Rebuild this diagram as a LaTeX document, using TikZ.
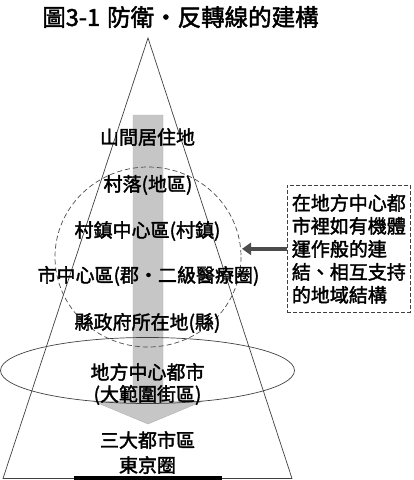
\documentclass[tikz,border=0pt]{standalone}
\usepackage{fontspec}
\newfontfamily\cjk[FakeBold=2]{Noto Sans CJK TC}
\usetikzlibrary{arrows.meta}
\begin{document}
\begin{tikzpicture}[x=1pt,y=-1pt,
  lbl/.style={font=\cjk\fontsize{19}{23}\selectfont, inner sep=0pt, text=black},
  thinline/.style={draw=black!75, line width=0.7pt},
  dashline/.style={draw=black!70, line width=0.7pt, dash pattern=on 5pt off 3pt}]
\useasboundingbox (0,0) rectangle (413,480);
% gray block arrow
\fill[gray!45, draw=gray!60, line width=0.4pt]
  (133,115) -- (163,115) -- (163,401) -- (203,401) -- (148,424) -- (93,401) -- (133,401) -- cycle;
% triangle
\coordinate (apex) at (148,38);
\coordinate (bl) at (3,478.5);
\coordinate (br) at (292,478.5);
\draw[thinline] (bl) -- (apex) -- (br) -- cycle;
% base bar
\fill[black] (74,476) rectangle (222,480);
% dashed circle
\draw[dashline] (148,257) ellipse [x radius=93, y radius=90];
% ellipse
\draw[thinline] (147.5,370.5) ellipse [x radius=147, y radius=33];
% title
\node[lbl, font=\cjk\fontsize{23.5}{27}\selectfont] (title) at (180.5,17) {圖3-1\hspace{0.3em}防衛・反轉線的建構};
% labels
\node[lbl] (l1) at (147.5,137) {山間居住地};
\node[lbl] (l2) at (148,185) {村落(地區)};
\node[lbl] (l3) at (147.5,231) {村鎮中心區(村鎮)};
\node[lbl] (l4) at (148.5,276) {市中心區(郡・二級醫療圈)};
\node[lbl] (l5) at (147.5,323) {縣政府所在地(縣)};
\node[lbl] (l6) at (147.5,372) {地方中心都市};
\node[lbl] (l7) at (147.5,395) {(大範圍街區)};
\node[lbl] (l8) at (147.5,440) {三大都市區};
\node[lbl] (l9) at (147.5,465) {東京圈};
% right box
\node[lbl, draw=black!75, line width=0.7pt, dash pattern=on 4pt off 2pt, align=left,
  minimum width=123pt, minimum height=127pt, anchor=north west] (box) at (287,185)
  {在地方中心都\\市裡如有機體\\運作般的連\\結、相互支持\\的地域結構};
\coordinate (tip) at (242,250);
\draw[draw=black!70, line width=4pt, -{Triangle[length=9pt,width=12pt]}] (box.west) -- (box.west -| tip);
\end{tikzpicture}
\end{document}
